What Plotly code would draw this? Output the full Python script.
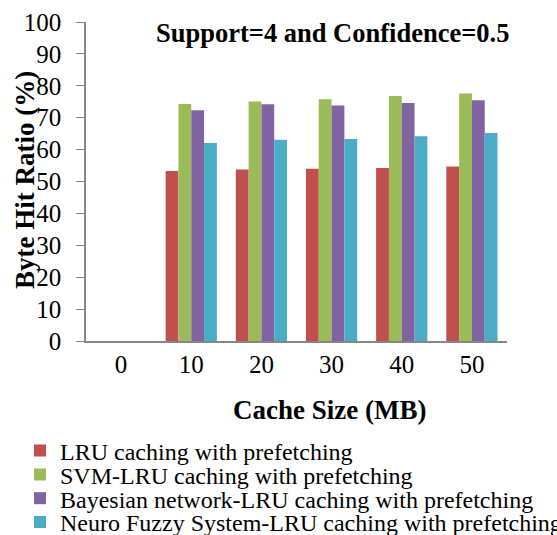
import plotly.graph_objects as go

categories = ["0", "10", "20", "30", "40", "50"]
lru = [None, 53.3, 53.8, 54.0, 54.2, 54.7]
svm_lru = [None, 74.3, 75.1, 75.8, 76.8, 77.6]
bayes_lru = [None, 72.3, 74.2, 73.8, 74.6, 75.5]
nfs_lru = [None, 62.1, 63.1, 63.3, 64.2, 65.2]
series_names = [
    "LRU caching with prefetching",
    "SVM-LRU caching with prefetching",
    "Bayesian network-LRU caching with prefetching",
    "Neuro Fuzzy System-LRU caching with prefetching",
]
colors = ["#C0504D", "#9BBB59", "#8064A2", "#4BACC6"]
y_ticks = list(range(0, 101, 10))

FONT = "Liberation Serif, Times New Roman, serif"
W, H = 557, 535
PL, PR, PT, PB = 86, 507, 22, 341  # plot area in pixels
legend_ids = ["legend", "legend2", "legend3", "legend4"]
legend_y_px = [451, 474.8, 498.6, 522.4]

fig = go.Figure()
for name, vals, c, lid in zip(series_names, [lru, svm_lru, bayes_lru, nfs_lru], colors, legend_ids):
    fig.add_trace(go.Bar(x=categories, y=vals, name=name, marker_color=c,
                         marker_line_width=0, legend=lid))

layout_legends = {}
for lid, ypx in zip(legend_ids, legend_y_px):
    layout_legends[lid] = dict(
        xref="paper", yref="paper",
        x=(20 - PL) / (PR - PL), y=(PB - ypx) / (PB - PT),
        xanchor="left", yanchor="middle",
        font=dict(size=24, family=FONT, color="black"),
        bgcolor="rgba(0,0,0,0)", borderwidth=0, itemwidth=30,
    )

fig.update_layout(
    width=W, height=H,
    margin=dict(l=PL, r=W - PR, t=PT, b=H - PB, autoexpand=False),
    paper_bgcolor="white", plot_bgcolor="white",
    font=dict(family=FONT, color="black", size=25),
    barmode="group", bargap=0.27, bargroupgap=0,
    showlegend=True,
    **layout_legends,
)
fig.update_xaxes(type="category", categoryorder="array", categoryarray=categories,
                 range=[-0.5, 5.5], showline=True, linecolor="#868686", linewidth=1.5,
                 ticks="", showgrid=False,
                 tickfont=dict(size=25, family=FONT))
fig.update_yaxes(range=[0, 100], tickvals=y_ticks, showline=True, linecolor="#868686",
                 linewidth=1.5, ticks="outside", ticklen=8, tickcolor="#868686",
                 showgrid=False, zeroline=False, ticklabelstandoff=10,
                 tickfont=dict(size=25, family=FONT))

fig.add_annotation(text="<b>Support=4 and Confidence=0.5</b>", xref="paper", yref="paper",
                   x=(332 - PL) / (PR - PL), y=(PB - 33) / (PB - PT), showarrow=False,
                   xanchor="center", yanchor="middle", font=dict(size=26.5, family=FONT))
fig.add_annotation(text="<b>Byte Hit Ratio (%)</b>", xref="paper", yref="paper",
                   x=(25 - PL) / (PR - PL), y=(PB - 180) / (PB - PT), textangle=-90,
                   xanchor="center", yanchor="middle",
                   showarrow=False, font=dict(size=27, family=FONT))
fig.add_annotation(text="<b>Cache Size (MB)</b>", xref="paper", yref="paper",
                   x=(329 - PL) / (PR - PL), y=(PB - 410) / (PB - PT), showarrow=False,
                   xanchor="center", yanchor="middle", font=dict(size=27, family=FONT))

fig.write_html("out.html", config={"displayModeBar": False},
               post_script="document.body.style.margin='0';")
